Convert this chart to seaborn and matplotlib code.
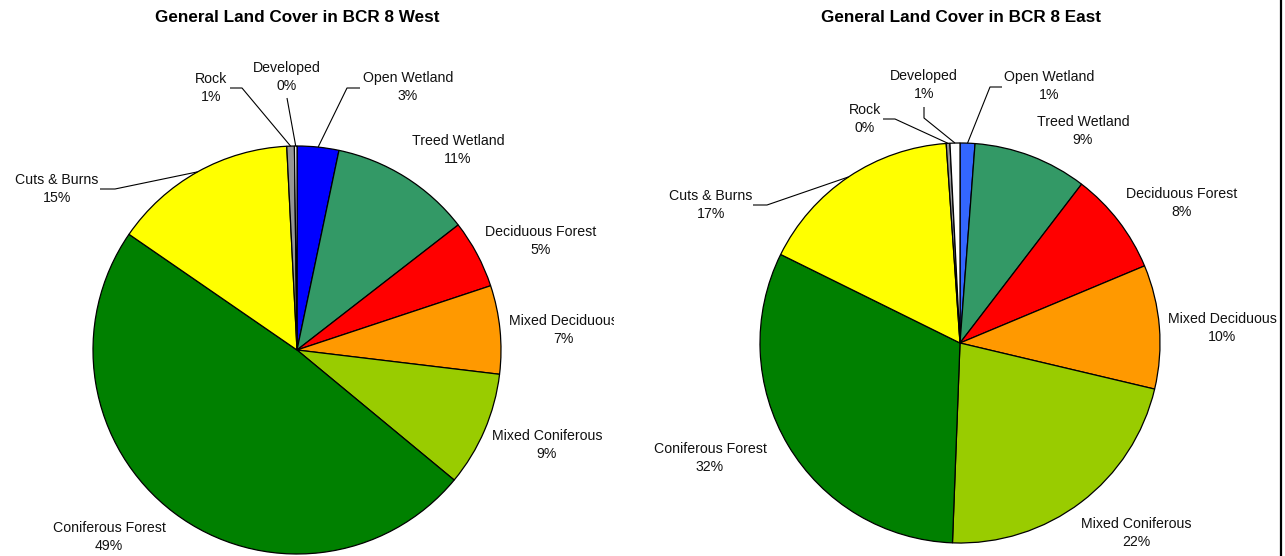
import matplotlib
matplotlib.use("Agg")
import matplotlib.pyplot as plt
from matplotlib.patches import Rectangle
import numpy as np
import seaborn as sns

# Land cover classes, listed clockwise from 12 o'clock
categories = ["Open Wetland", "Treed Wetland", "Deciduous Forest", "Mixed Deciduous",
              "Mixed Coniferous", "Coniferous Forest", "Cuts & Burns", "Rock", "Developed"]

# Share of area (%) per class
west_values = [3.3, 11.2, 5.4, 7.0, 9.1, 48.6, 14.6, 0.6, 0.2]
east_values = [1.2, 9.2, 8.3, 10.0, 21.9, 31.7, 16.6, 0.3, 0.8]

west_title = "General Land Cover in BCR 8 West"
east_title = "General Land Cover in BCR 8 East"

west_colors = ["#0000FF", "#339966", "#FF0000", "#FF9900", "#99CC00",
               "#008000", "#FFFF00", "#969696", "#FFFFFF"]
east_colors = ["#3366FF", "#339966", "#FF0000", "#FF9900", "#99CC00",
               "#008000", "#FFFF00", "#969696", "#FFFFFF"]

W, H = 1285, 556

# Layout in pixel units (y measured from the top edge)
west_geom = dict(center=(297, 350), radius=204, title_xy=(297, 18))
east_geom = dict(center=(960, 343), radius=200, title_xy=(961, 18))

# label centre, and optional leader path (text side -> elbow); leader ends on the wedge rim
west_labels = {
    "Open Wetland": ((408, 87), [(360, 88), (347, 88)]),
    "Treed Wetland": ((458, 150), None),
    "Deciduous Forest": ((541, 241), None),
    "Mixed Deciduous": ((563, 330), None),
    "Mixed Coniferous": ((547, 445), None),
    "Coniferous Forest": ((109, 537), None),
    "Cuts & Burns": ((57, 189), [(100, 189), (115, 189)]),
    "Rock": ((211, 88), [(230, 88), (242, 88)]),
    "Developed": ((287, 77), [(287, 98)]),
}
east_labels = {
    "Open Wetland": ((1049, 86), [(1002, 87), (990, 87)]),
    "Treed Wetland": ((1083, 131), None),
    "Deciduous Forest": ((1182, 203), None),
    "Mixed Deciduous": ((1222, 328), None),
    "Mixed Coniferous": ((1136, 533), None),
    "Coniferous Forest": ((710, 458), None),
    "Cuts & Burns": ((711, 205), [(753, 205), (767, 205)]),
    "Rock": ((865, 119), [(883, 119), (895, 119)]),
    "Developed": ((924, 85), [(924, 107), (924, 118)]),
}

sns.set_theme(style="white")
plt.rcParams["font.family"] = ["Liberation Sans", "DejaVu Sans"]

fig = plt.figure(figsize=(W / 100, H / 100), dpi=100)
fig.patch.set_facecolor("white")
ax = fig.add_axes([0, 0, 1, 1])


def fy(y):
    return H - y


def draw_pie(values, colors, geom, labels, title, clip_right=None):
    cx, cy = geom["center"]
    r = geom["radius"]
    wedges, _ = ax.pie(values, colors=colors, startangle=90, counterclock=False,
                       center=(cx, fy(cy)), radius=r, frame=True,
                       wedgeprops=dict(edgecolor="black", linewidth=0.9))
    total = float(sum(values))
    for name, v, w in zip(categories, values, wedges):
        (tx, ty), leader = labels[name]
        pct = v / total * 100
        t = ax.text(tx, fy(ty), f"{name}\n{pct:.0f}%", ha="center", va="center",
                    fontsize=10.2, color="#111111", linespacing=1.3)
        if clip_right is not None:
            # labels are cut off at the right edge of this chart's area
            rect = Rectangle((0, 0), clip_right, H, transform=ax.transData)
            t.set_clip_path(rect)
            t.set_clip_on(True)
        if leader:
            mid = np.deg2rad((w.theta1 + w.theta2) / 2)
            ex = cx + r * np.cos(mid)
            ey = fy(cy) + r * np.sin(mid)
            xs = [p[0] for p in leader] + [ex]
            ys = [fy(p[1]) for p in leader] + [ey]
            ax.plot(xs, ys, color="black", linewidth=0.8, solid_capstyle="butt")
    ax.text(geom["title_xy"][0], fy(geom["title_xy"][1]), title, ha="center", va="center",
            fontsize=12.3, fontweight="bold", color="black")


draw_pie(west_values, west_colors, west_geom, west_labels, west_title, clip_right=614)
draw_pie(east_values, east_colors, east_geom, east_labels, east_title)

# right-hand frame rule
ax.plot([1281, 1281], [0, H], color="black", linewidth=1.6)

ax.set_xlim(0, W)
ax.set_ylim(0, H)
ax.set_aspect("equal")
ax.axis("off")

fig.savefig("out.png", dpi=100, facecolor="white")
